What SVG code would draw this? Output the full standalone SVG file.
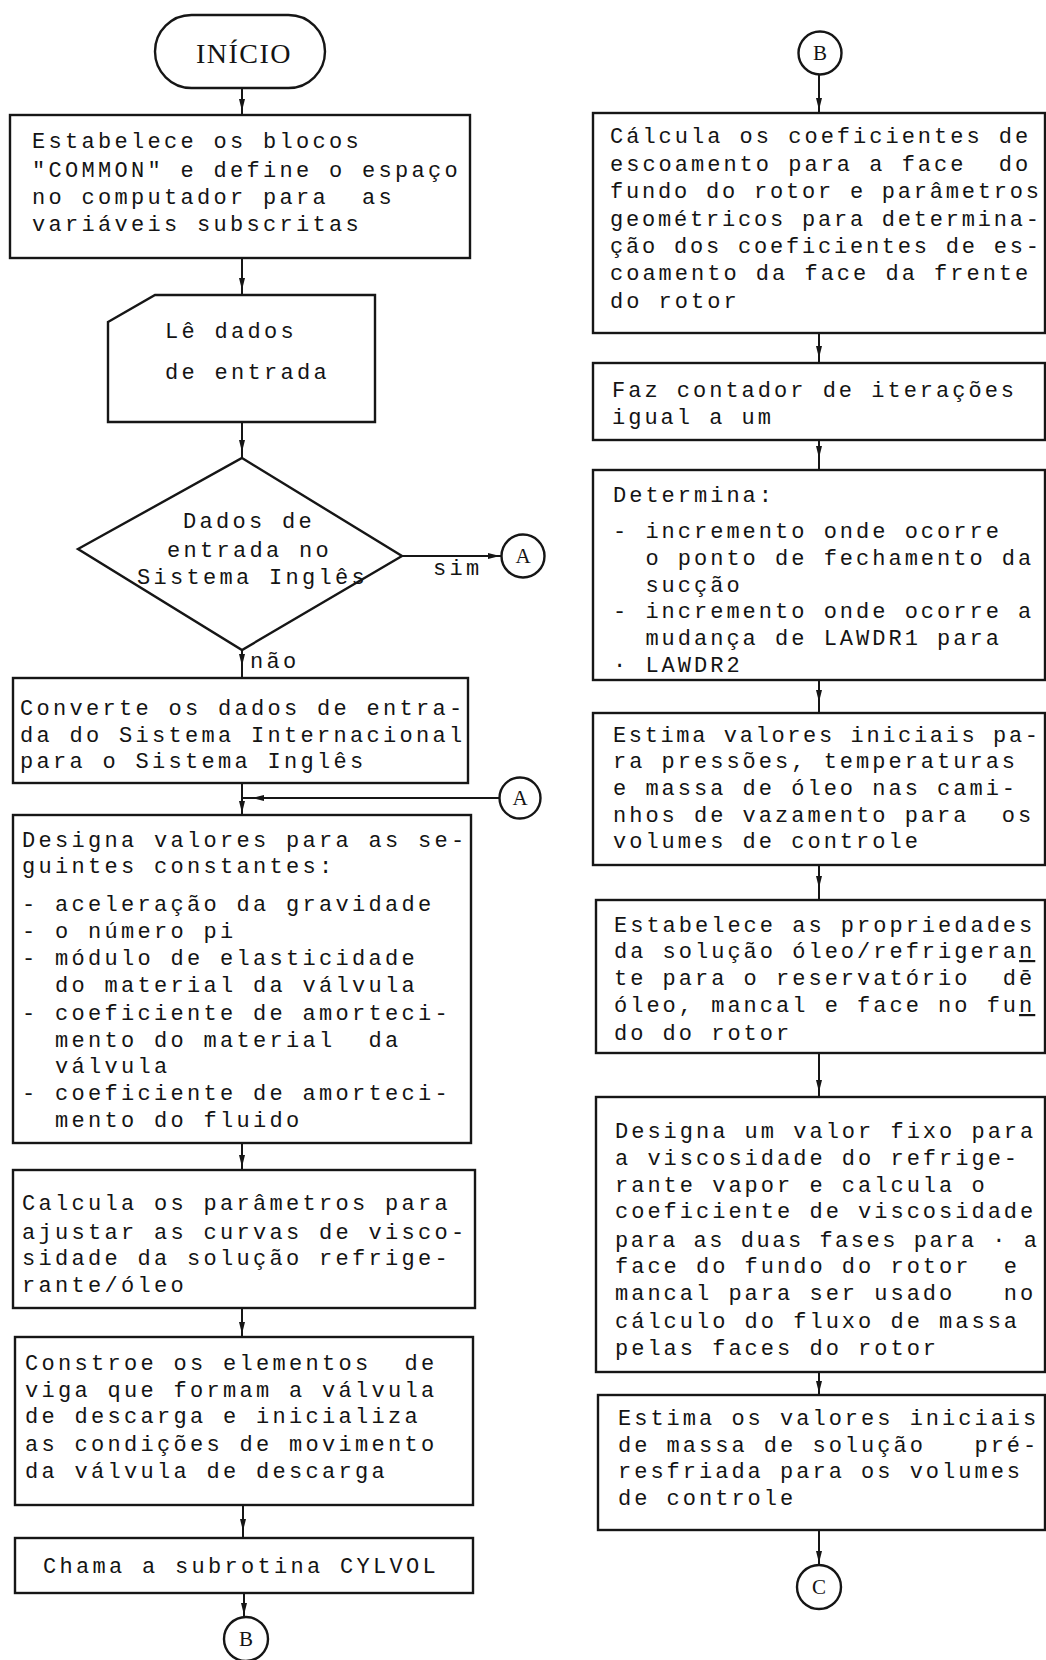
<svg xmlns="http://www.w3.org/2000/svg" width="1046" height="1660" viewBox="0 0 1046 1660">
  <style>
    .box { fill: none; stroke: #161616; stroke-width: 2.4; stroke-linejoin: miter; }
    .sym { fill: #fff; stroke: #161616; stroke-width: 2.4; }
    .wire { fill: none; stroke: #161616; stroke-width: 2; }
    text { font-family: "Liberation Mono", "DejaVu Sans Mono", monospace; font-size: 22px; fill: #141414; white-space: pre; }
    .l { letter-spacing: 3.3px; }
    .r { letter-spacing: 3.0px; }
    .title { font-family: "Liberation Serif", serif; font-size: 28px; letter-spacing: 1.5px; }
    .conn { font-family: "Liberation Serif", serif; font-size: 21px; text-anchor: middle; letter-spacing: 0; }
  </style>
  <defs>
    <marker id="ah" viewBox="0 0 12 6" refX="12" refY="3" markerWidth="12" markerHeight="6" markerUnits="userSpaceOnUse" orient="auto">
      <path d="M0,0 L12,3 L0,6 z" fill="#161616"/>
    </marker>
  </defs>
  <rect width="1046" height="1660" fill="#fff"/>

  <!-- connectors: each arrowhead sits on the middle vertex of its path -->
  <g id="connectors">
    <path class="wire" marker-mid="url(#ah)" d="M242 88 L242 111 L242 115"/>
    <path class="wire" marker-mid="url(#ah)" d="M242 258 L242 290 L242 295"/>
    <path class="wire" marker-mid="url(#ah)" d="M242 422 L242 452 L242 458"/>
    <path class="wire" marker-mid="url(#ah)" d="M402 556 L500 556 L501 556"/>
    <path class="wire" marker-mid="url(#ah)" d="M242 650 L242 666 L242 678"/>
    <path class="wire" marker-mid="url(#ah)" d="M242 783 L242 813 L242 815"/>
    <path class="wire" marker-mid="url(#ah)" d="M500 798 L252 798 L242 798"/>
    <path class="wire" marker-mid="url(#ah)" d="M242 1143 L242 1167 L242 1170"/>
    <path class="wire" marker-mid="url(#ah)" d="M242 1308 L242 1334 L242 1337"/>
    <path class="wire" marker-mid="url(#ah)" d="M243 1505 L243 1531 L243 1538"/>
    <path class="wire" marker-mid="url(#ah)" d="M244 1593 L244 1615 L244 1617"/>

    <path class="wire" marker-mid="url(#ah)" d="M819 75 L819 110 L819 113"/>
    <path class="wire" marker-mid="url(#ah)" d="M819 333 L819 358 L819 363"/>
    <path class="wire" marker-mid="url(#ah)" d="M819 440 L819 458 L819 470"/>
    <path class="wire" marker-mid="url(#ah)" d="M819 680 L819 702 L819 713"/>
    <path class="wire" marker-mid="url(#ah)" d="M819 865 L819 888 L819 900"/>
    <path class="wire" marker-mid="url(#ah)" d="M819 1053 L819 1092 L819 1097"/>
    <path class="wire" marker-mid="url(#ah)" d="M819 1372 L819 1393 L819 1395"/>
    <path class="wire" marker-mid="url(#ah)" d="M819 1530 L819 1563 L819 1565"/>

    <text x="433" y="575" class="l">sim</text>
    <text x="250" y="668" class="l">não</text>
  </g>

  <!-- left column -->
  <g id="inicio">
    <rect class="sym" x="155" y="15" width="170" height="73" rx="36.5"/>
    <text x="196" y="63" class="title">INÍCIO</text>
  </g>

  <g id="common">
    <rect class="box" x="10" y="115" width="460" height="143"/>
    <text class="l" x="32" y="148">Estabelece os blocos</text>
    <text class="l" x="32" y="177">"COMMON" e define o espaço</text>
    <text class="l" x="32" y="204">no computador para  as</text>
    <text class="l" x="32" y="231">variáveis subscritas</text>
  </g>

  <g id="le-dados">
    <polygon class="box" points="108,322 155,295 375,295 375,422 108,422"/>
    <text class="l" x="165" y="338">Lê dados</text>
    <text class="l" x="165" y="379">de entrada</text>
  </g>

  <g id="decisao">
    <polygon class="box" points="242,458 402,556 242,650 78,549"/>
    <text class="l" x="183" y="528">Dados de</text>
    <text class="l" x="167" y="557">entrada no</text>
    <text class="l" x="137" y="584">Sistema Inglês</text>
  </g>

  <g id="conector-a-saida">
    <circle class="sym" cx="523" cy="556" r="21.5"/>
    <text class="conn" x="523" y="563">A</text>
  </g>

  <g id="converte">
    <rect class="box" x="13" y="678" width="455" height="105"/>
    <text class="l" x="20" y="715">Converte os dados de entra-</text>
    <text class="l" x="20" y="742">da do Sistema Internacional</text>
    <text class="l" x="20" y="768">para o Sistema Inglês</text>
  </g>

  <g id="conector-a-entrada">
    <circle class="sym" cx="520" cy="798" r="20.5"/>
    <text class="conn" x="520" y="805">A</text>
  </g>

  <g id="constantes">
    <rect class="box" x="13" y="815" width="458" height="328"/>
    <text class="l" x="22" y="847">Designa valores para as se-</text>
    <text class="l" x="22" y="873">guintes constantes:</text>
    <text class="l" x="22" y="911">- aceleração da gravidade</text>
    <text class="l" x="22" y="938">- o número pi</text>
    <text class="l" x="22" y="965">- módulo de elasticidade</text>
    <text class="l" x="22" y="992">  do material da válvula</text>
    <text class="l" x="22" y="1020">- coeficiente de amorteci-</text>
    <text class="l" x="22" y="1047">  mento do material  da</text>
    <text class="l" x="22" y="1073">  válvula</text>
    <text class="l" x="22" y="1100">- coeficiente de amorteci-</text>
    <text class="l" x="22" y="1127">  mento do fluido</text>
  </g>

  <g id="viscosidade">
    <rect class="box" x="13" y="1170" width="462" height="138"/>
    <text class="l" x="22" y="1210">Calcula os parâmetros para</text>
    <text class="l" x="22" y="1239">ajustar as curvas de visco-</text>
    <text class="l" x="22" y="1265">sidade da solução refrige-</text>
    <text class="l" x="22" y="1292">rante/óleo</text>
  </g>

  <g id="valvula">
    <rect class="box" x="15" y="1337" width="458" height="168"/>
    <text class="l" x="25" y="1370">Constroe os elementos  de</text>
    <text class="l" x="25" y="1397">viga que formam a válvula</text>
    <text class="l" x="25" y="1423">de descarga e inicializa</text>
    <text class="l" x="25" y="1451">as condições de movimento</text>
    <text class="l" x="25" y="1478">da válvula de descarga</text>
  </g>

  <g id="cylvol">
    <rect class="box" x="15" y="1538" width="458" height="55"/>
    <text class="l" x="43" y="1573">Chama a subrotina CYLVOL</text>
  </g>

  <g id="conector-b-saida">
    <circle class="sym" cx="246" cy="1639" r="22"/>
    <text class="conn" x="246" y="1646">B</text>
  </g>

  <!-- right column -->
  <g id="conector-b-entrada">
    <circle class="sym" cx="820" cy="53" r="21.5"/>
    <text class="conn" x="820" y="60">B</text>
  </g>

  <g id="coef-escoamento">
    <rect class="box" x="593" y="113" width="452" height="220"/>
    <text class="r" x="610" y="143">Cálcula os coeficientes de</text>
    <text class="r" x="610" y="171">escoamento para a face  do</text>
    <text class="r" x="610" y="198" textLength="432" lengthAdjust="spacing">fundo do rotor e parâmetros</text>
    <text class="r" x="610" y="226" textLength="432" lengthAdjust="spacing">geométricos para determina-</text>
    <text class="r" x="610" y="253" textLength="432" lengthAdjust="spacing">ção dos coeficientes de es-</text>
    <text class="r" x="610" y="280">coamento da face da frente</text>
    <text class="r" x="610" y="308">do rotor</text>
  </g>

  <g id="contador">
    <rect class="box" x="593" y="363" width="452" height="77"/>
    <text class="r" x="612" y="397">Faz contador de iterações</text>
    <text class="r" x="612" y="424">igual a um</text>
  </g>

  <g id="determina">
    <rect class="box" x="593" y="470" width="452" height="210"/>
    <text class="r" x="613" y="502">Determina:</text>
    <text class="r" x="613" y="538">- incremento onde ocorre</text>
    <text class="r" x="613" y="565">  o ponto de fechamento da</text>
    <text class="r" x="613" y="592">  sucção</text>
    <text class="r" x="613" y="618">- incremento onde ocorre a</text>
    <text class="r" x="613" y="645">  mudança de LAWDR1 para</text>
    <text class="r" x="613" y="672">· LAWDR2</text>
  </g>

  <g id="estima-valores">
    <rect class="box" x="593" y="713" width="452" height="152"/>
    <text class="r" x="613" y="742" textLength="428" lengthAdjust="spacing">Estima valores iniciais pa-</text>
    <text class="r" x="613" y="768">ra pressões, temperaturas</text>
    <text class="r" x="613" y="795">e massa de óleo nas cami-</text>
    <text class="r" x="613" y="822">nhos de vazamento para  os</text>
    <text class="r" x="613" y="848">volumes de controle</text>
  </g>

  <g id="propriedades">
    <rect class="box" x="596" y="900" width="449" height="153"/>
    <text class="r" x="614" y="932">Estabelece as propriedades</text>
    <text class="r" x="614" y="958">da solução óleo/refrigera<tspan text-decoration="underline">n</tspan></text>
    <text class="r" x="614" y="985">te para o reservatório  dē</text>
    <text class="r" x="614" y="1012">óleo, mancal e face no fu<tspan text-decoration="underline">n</tspan></text>
    <text class="r" x="614" y="1040">do do rotor</text>
  </g>

  <g id="viscosidade-fixa">
    <rect class="box" x="596" y="1097" width="449" height="275"/>
    <text class="r" x="615" y="1138">Designa um valor fixo para</text>
    <text class="r" x="615" y="1165">a viscosidade do refrige-</text>
    <text class="r" x="615" y="1192">rante vapor e calcula o</text>
    <text class="r" x="615" y="1218">coeficiente de viscosidade</text>
    <text class="r" x="615" y="1247" textLength="425" lengthAdjust="spacing">para as duas fases para · a</text>
    <text class="r" x="615" y="1273">face do fundo do rotor  e</text>
    <text class="r" x="615" y="1300">mancal para ser usado   no</text>
    <text class="r" x="615" y="1328">cálculo do fluxo de massa</text>
    <text class="r" x="615" y="1355">pelas faces do rotor</text>
  </g>

  <g id="massa-inicial">
    <rect class="box" x="598" y="1395" width="447" height="135"/>
    <text class="r" x="618" y="1425">Estima os valores iniciais</text>
    <text class="r" x="618" y="1452">de massa de solução   pré-</text>
    <text class="r" x="618" y="1478">resfriada para os volumes</text>
    <text class="r" x="618" y="1505">de controle</text>
  </g>

  <g id="conector-c">
    <circle class="sym" cx="819" cy="1587" r="22"/>
    <text class="conn" x="819" y="1594">C</text>
  </g>
</svg>
